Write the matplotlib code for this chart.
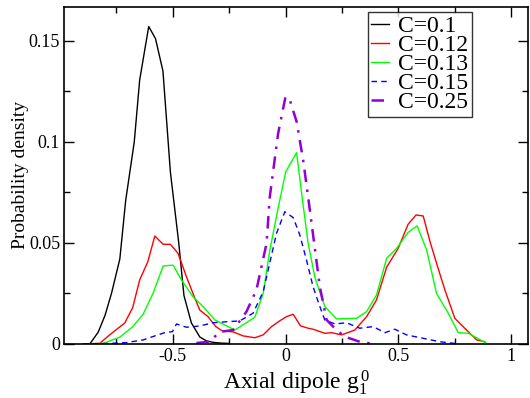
import matplotlib
matplotlib.use("Agg")
import matplotlib.pyplot as plt
from matplotlib.ticker import MultipleLocator

plt.rcParams["font.family"] = ["Liberation Serif", "DejaVu Serif"]
plt.rcParams["mathtext.fontset"] = "custom"
plt.rcParams["mathtext.rm"] = "Liberation Serif"
plt.rcParams["mathtext.it"] = "Liberation Serif"

# C = 0.1
x_c010 = [-0.867, -0.83, -0.80, -0.771, -0.734, -0.708, -0.67, -0.646, -0.606,
          -0.576, -0.543, -0.51, -0.473, -0.45, -0.417, -0.38, -0.35, -0.32, -0.28, -0.25]
y_c010 = [0.0, 0.0058, 0.014, 0.025, 0.042, 0.071, 0.10, 0.1306, 0.157,
          0.151, 0.135, 0.085, 0.05, 0.024, 0.0104, 0.0035, 0.0015, 0.0008, 0.0004, 0.0003]

# C = 0.12
x_c012 = [-0.897, -0.823, -0.779, -0.712, -0.677, -0.646, -0.610, -0.579, -0.542,
          -0.51, -0.476, -0.439, -0.41, -0.38, -0.343, -0.309, -0.279, -0.232,
          -0.188, -0.136, -0.099, -0.062, -0.025, 0.004, 0.034, 0.066, 0.1, 0.122,
          0.174, 0.204, 0.248, 0.307, 0.359, 0.403, 0.448, 0.499, 0.543, 0.578,
          0.61, 0.64, 0.676, 0.706, 0.75, 0.802, 0.847, 0.883]
y_c012 = [0.0, 0.0003, 0.0045, 0.0104, 0.018, 0.0317, 0.0407, 0.0534, 0.0493,
          0.0493, 0.0448, 0.0333, 0.025, 0.0168, 0.0135, 0.0086, 0.0064, 0.006,
          0.004, 0.0031, 0.0045, 0.0086, 0.0115, 0.0135, 0.0147, 0.009, 0.0078, 0.0073,
          0.0053, 0.0056, 0.0045, 0.0069, 0.0135, 0.0218, 0.038, 0.0473, 0.0592, 0.0638,
          0.0633, 0.0506, 0.0374, 0.0267, 0.0127, 0.0069, 0.002, 0.0011]

# C = 0.13
x_c013 = [-0.897, -0.808, -0.735, -0.676, -0.631, -0.587, -0.542, -0.498, -0.461,
          -0.41, -0.365, -0.313, -0.225, -0.136, -0.099, -0.07, -0.035, 0.001,
          0.049, 0.075, 0.10, 0.13, 0.174, 0.226, 0.315, 0.359, 0.403, 0.448,
          0.492, 0.543, 0.583, 0.625, 0.669, 0.721, 0.765, 0.81, 0.891]
y_c013 = [0.0, 0.0003, 0.0033, 0.0086, 0.0147, 0.025, 0.0386, 0.039, 0.0317,
          0.0234, 0.0185, 0.0119, 0.0069, 0.0132, 0.025, 0.046, 0.066, 0.0852,
          0.0946, 0.0712, 0.05, 0.033, 0.0185, 0.0124, 0.0127, 0.016, 0.0242, 0.0424,
          0.0473, 0.0552, 0.0584, 0.0465, 0.025, 0.0152, 0.0056, 0.0053, 0.0003]

# C = 0.15
x_c015 = [-0.897, -0.779, -0.705, -0.631, -0.579, -0.535, -0.501, -0.483, -0.439,
          -0.38, -0.321, -0.262, -0.203, -0.144, -0.099, -0.04, -0.003, 0.034,
          0.063, 0.093, 0.122, 0.152, 0.174, 0.219, 0.27, 0.329, 0.388, 0.44,
          0.484, 0.536, 0.61, 0.684, 0.772]
y_c015 = [0.0, 0.0003, 0.0007, 0.002, 0.004, 0.0056, 0.0061, 0.0099, 0.0083,
          0.0089, 0.0105, 0.011, 0.0114, 0.0152, 0.0258, 0.0547, 0.0654, 0.0625,
          0.054, 0.0415, 0.0283, 0.0185, 0.0119, 0.0099, 0.0105, 0.0078, 0.0086, 0.0056,
          0.0073, 0.0045, 0.0028, 0.0011, 0.0]

# C = 0.25
x_c025 = [-0.395, -0.335, -0.306, -0.284, -0.232, -0.173, -0.129, -0.084, -0.07,
          -0.033, 0.0, 0.019, 0.049, 0.078, 0.10, 0.152, 0.182, 0.226, 0.263,
          0.329, 0.396]
y_c025 = [0.0005, 0.0011, 0.0045, 0.0061, 0.0069, 0.016, 0.0267, 0.0498, 0.0725,
          0.104, 0.1223, 0.1207, 0.11, 0.091, 0.0728, 0.0283, 0.0119, 0.0069, 0.0036,
          0.0011, 0.0]

labels = ["C=0.1", "C=0.12", "C=0.13", "C=0.15", "C=0.25"]


def main():
    fig = plt.figure(figsize=(5.3, 3.98), dpi=100)
    ax = fig.add_axes([0.1213, 0.1357, 0.8749, 0.8475])

    ax.plot(x_c010, y_c010, color="black", lw=1.0, label=labels[0])
    ax.plot(x_c012, y_c012, color="#ff0000", lw=1.0, label=labels[1])
    ax.plot(x_c013, y_c013, color="#00ff00", lw=1.0, label=labels[2])
    ax.plot(x_c015, y_c015, color="#0000ff", lw=1.0, dashes=(4, 3), label=labels[3])
    ax.plot(x_c025, y_c025, color="#9400d3", lw=1.8,
            dashes=(5, 3, 1, 3), label=labels[4])

    ax.set_xlim(-0.98, 1.074)
    ax.set_ylim(0, 0.1668)
    ax.xaxis.set_major_locator(MultipleLocator(0.5))
    ax.xaxis.set_minor_locator(MultipleLocator(0.25))
    ax.yaxis.set_major_locator(MultipleLocator(0.05))
    ax.yaxis.set_minor_locator(MultipleLocator(0.025))
    ax.xaxis.set_major_formatter(plt.FuncFormatter(lambda v, p: f"{v:g}"))
    ax.yaxis.set_major_formatter(plt.FuncFormatter(lambda v, p: f"{v:g}"))
    ax.tick_params(which="both", direction="in", top=True, right=True,
                   labelsize=13, width=1)
    ax.tick_params(which="major", length=7, pad=3)
    ax.tick_params(which="minor", length=4)
    for s in ax.spines.values():
        s.set_linewidth(1.2)

    ax.set_xlabel(r"Axial dipole g$_1^{\,0}$", fontsize=17, labelpad=2)
    ax.set_ylabel("Probability density", fontsize=14, labelpad=0)

    leg = ax.legend(loc="upper right", bbox_to_anchor=(0.879, 0.985),
                    fontsize=17, frameon=True, fancybox=False, handlelength=0.75,
                    handletextpad=0.4, labelspacing=-0.1, borderpad=0.15,
                    borderaxespad=0)
    leg.get_frame().set_edgecolor("black")
    leg.get_frame().set_linewidth(1.0)

    fig.savefig("out.png", dpi=100)


if __name__ == "__main__":
    main()
